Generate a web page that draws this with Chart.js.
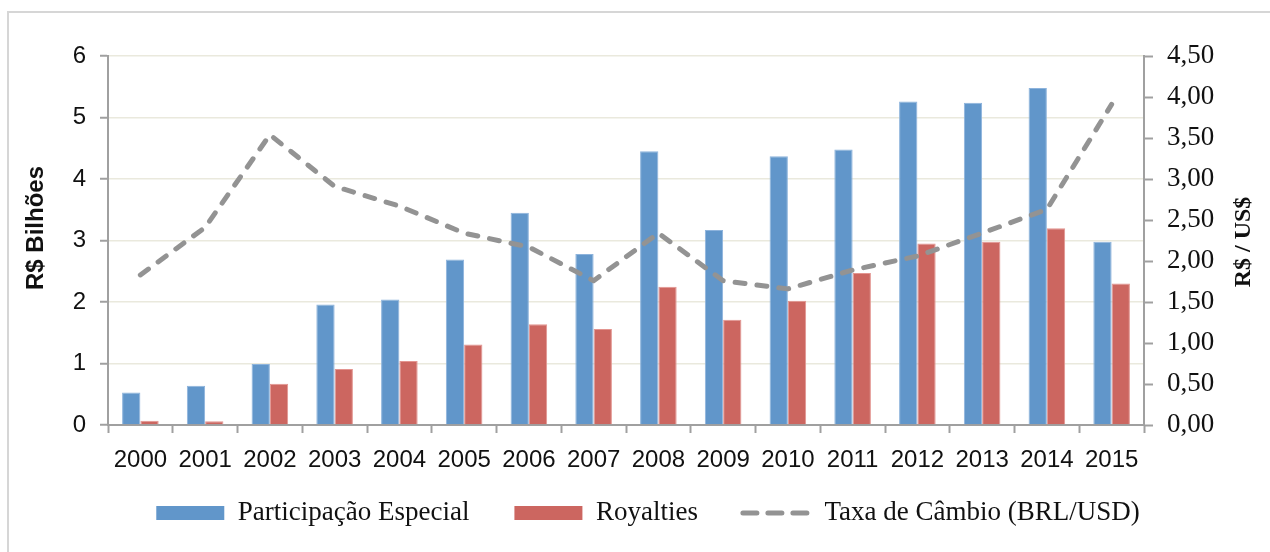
<!DOCTYPE html>
<html>
<head>
<meta charset="utf-8">
<script src="https://cdn.jsdelivr.net/npm/chart.js@4.4.1/dist/chart.umd.min.js"></script>
<style>
  html, body { margin: 0; padding: 0; background: #ffffff; }
  canvas { display: block; }
</style>
</head>
<body>
<canvas id="c" width="1270" height="552"></canvas>
<script>
// ---- data ----
const categories = ['2000','2001','2002','2003','2004','2005','2006','2007','2008','2009','2010','2011','2012','2013','2014','2015'];
const participacaoEspecial = [0.53, 0.64, 0.99, 1.96, 2.04, 2.69, 3.45, 2.78, 4.45, 3.17, 4.37, 4.48, 5.26, 5.24, 5.48, 2.98];
const royalties = [0.07, 0.06, 0.67, 0.91, 1.04, 1.31, 1.64, 1.56, 2.25, 1.71, 2.02, 2.47, 2.95, 2.98, 3.20, 2.30];
const taxaCambio = [1.83, 2.41, 3.54, 2.91, 2.67, 2.34, 2.17, 1.76, 2.34, 1.76, 1.66, 1.89, 2.06, 2.34, 2.63, 3.91];
const seriesNames = ['Participação Especial', 'Royalties', 'Taxa de Câmbio (BRL/USD)'];
const leftTitle = 'R$ Bilhões';
const rightTitle = 'R$ / US$';

const AXIS_GRAY = '#a0a0a0';
const GRID = '#eae9dd';
const TEXT = '#111111';
const LINE_GRAY = '#939393';
const LEGEND_PAD = 45;      // horizontal gap between legend items
const LEGEND_TOP_GAP = 19.5; // vertical gap above legend items

Chart.defaults.font.family = '"Liberation Sans", Arial, sans-serif';
Chart.defaults.color = TEXT;

const framePlugin = {
  id: 'frameAndTitles',
  beforeUpdate(chart) {
    const lg = chart.legend;
    if (lg && !lg.__patched && typeof lg._computeTitleHeight === 'function') {
      const orig = lg._computeTitleHeight.bind(lg);
      lg._computeTitleHeight = () => orig() + (LEGEND_TOP_GAP - LEGEND_PAD);
      lg.__patched = true;
    }
  },
  beforeDraw(chart) {
    const ctx = chart.ctx;
    ctx.save();
    ctx.strokeStyle = '#d6d6d6';
    ctx.lineWidth = 2;
    ctx.strokeRect(8, 12, 1400, 700);
    ctx.restore();
  },
  afterDraw(chart) {
    const ctx = chart.ctx;
    ctx.save();
    ctx.fillStyle = TEXT;
    ctx.textAlign = 'center';
    ctx.textBaseline = 'middle';
    ctx.translate(36, 228);
    ctx.rotate(-Math.PI / 2);
    ctx.font = 'bold 24px "Liberation Sans", Arial, sans-serif';
    ctx.fillText(leftTitle, 0, 0);
    ctx.restore();
    ctx.save();
    ctx.fillStyle = TEXT;
    ctx.textAlign = 'center';
    ctx.textBaseline = 'middle';
    ctx.translate(1244, 242);
    ctx.rotate(-Math.PI / 2);
    ctx.font = 'bold 24px "Liberation Serif", "Times New Roman", serif';
    ctx.fillText(rightTitle, 0, 0);
    ctx.restore();
  }
};

new Chart(document.getElementById('c'), {
  data: {
    labels: categories,
    datasets: [
      {
        type: 'bar',
        label: seriesNames[0],
        data: participacaoEspecial,
        yAxisID: 'y',
        backgroundColor: '#6196ca',
        borderColor: '#8db3dc',
        borderWidth: 1,
        categoryPercentage: 0.565,
        barPercentage: 1.0,
        order: 1
      },
      {
        type: 'bar',
        label: seriesNames[1],
        data: royalties,
        yAxisID: 'y',
        backgroundColor: '#cc6660',
        borderColor: '#e39590',
        borderWidth: 1,
        categoryPercentage: 0.565,
        barPercentage: 1.0,
        order: 1
      },
      {
        type: 'line',
        label: seriesNames[2],
        data: taxaCambio,
        yAxisID: 'y1',
        borderColor: LINE_GRAY,
        backgroundColor: LINE_GRAY,
        borderWidth: 5,
        borderDash: [10, 12],
        borderCapStyle: 'round',
        borderJoinStyle: 'round',
        pointRadius: 0,
        tension: 0,
        fill: false,
        order: 0
      }
    ]
  },
  options: {
    responsive: false,
    animation: false,
    devicePixelRatio: 1,
    layout: { padding: { left: 26, right: 0, top: 56, bottom: 15.5 } },
    plugins: {
      tooltip: { enabled: false },
      legend: {
        position: 'bottom',
        align: 'center',
        labels: {
          usePointStyle: true,
          pointStyleWidth: 68,
          boxHeight: 14,
          padding: LEGEND_PAD,
          color: TEXT,
          font: { family: '"Liberation Serif", "Times New Roman", serif', size: 27 },
          sort: (a, b) => a.datasetIndex - b.datasetIndex,
          generateLabels(chart) {
            const items = Chart.defaults.plugins.legend.labels.generateLabels(chart);
            items.forEach((it) => {
              if (it.datasetIndex < 2) {
                it.pointStyle = 'rect';
                it.lineWidth = 0;
                it.strokeStyle = it.fillStyle;
              } else {
                it.pointStyle = 'line';
                it.lineWidth = 5;
                it.lineDash = [14, 11];
                it.lineCap = 'round';
                it.strokeStyle = LINE_GRAY;
              }
            });
            return items;
          }
        }
      }
    },
    scales: {
      x: {
        type: 'category',
        offset: true,
        grid: {
          offset: true,
          drawOnChartArea: false,
          drawTicks: true,
          tickLength: 8,
          tickColor: AXIS_GRAY,
          tickWidth: 2
        },
        border: { color: AXIS_GRAY, width: 2 },
        ticks: {
          maxRotation: 0,
          minRotation: 0,
          autoSkip: false,
          padding: 13,
          color: TEXT,
          font: { size: 24 }
        },
        afterFit(scale) { scale.height = 55; }
      },
      y: {
        type: 'linear',
        position: 'left',
        min: 0,
        max: 6,
        ticks: {
          stepSize: 1,
          padding: 14,
          color: TEXT,
          font: { size: 24 }
        },
        grid: {
          color: GRID,
          lineWidth: 1.5,
          drawTicks: true,
          tickLength: 8,
          tickColor: AXIS_GRAY,
          tickWidth: 2
        },
        border: { color: AXIS_GRAY, width: 2 },
        afterFit(scale) { scale.width = 82; }
      },
      y1: {
        type: 'linear',
        position: 'right',
        min: 0,
        max: 4.5,
        ticks: {
          stepSize: 0.5,
          padding: 14,
          color: TEXT,
          font: { family: '"Liberation Serif", "Times New Roman", serif', size: 27 },
          callback: (v) => Number(v).toFixed(2).replace('.', ',')
        },
        grid: {
          drawOnChartArea: false,
          drawTicks: true,
          tickLength: 9,
          tickColor: AXIS_GRAY,
          tickWidth: 2
        },
        border: { color: AXIS_GRAY, width: 2 },
        afterFit(scale) { scale.width = 126; }
      }
    }
  },
  plugins: [framePlugin]
});
</script>
</body>
</html>
